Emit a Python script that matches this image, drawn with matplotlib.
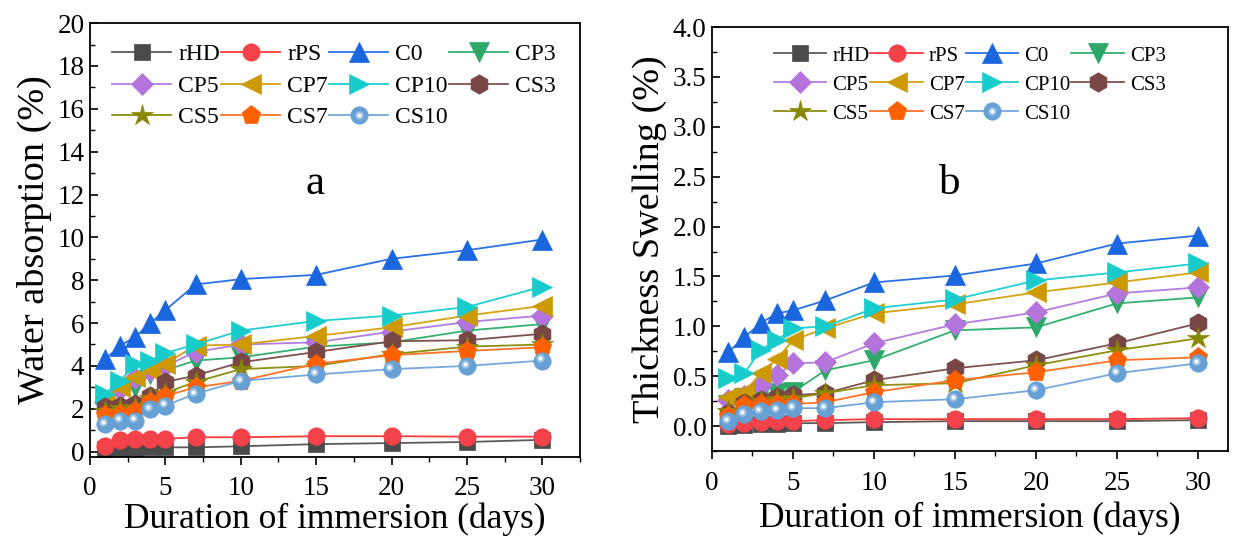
import matplotlib
matplotlib.use("Agg")
import matplotlib.pyplot as plt
from matplotlib.ticker import MultipleLocator, FormatStrFormatter
from matplotlib.transforms import offset_copy

plt.rcParams['font.family'] = ['Liberation Serif', 'DejaVu Serif']

days = [1, 2, 3, 4, 5, 7, 10, 15, 20, 25, 30]
series_names = ['rHD', 'rPS', 'C0', 'CP3', 'CP5', 'CP7', 'CP10',
                'CS3', 'CS5', 'CS7', 'CS10']

# Water absorption (%)
wa_rHD = [0.1, 0.15, 0.15, 0.2, 0.2, 0.2, 0.25, 0.35, 0.4, 0.45, 0.55]
wa_rPS = [0.25, 0.55, 0.6, 0.6, 0.6, 0.67, 0.67, 0.72, 0.72, 0.7, 0.7]
wa_C0 = [4.3, 4.95, 5.35, 6.0, 6.6, 7.8, 8.05, 8.25, 9.0, 9.4, 9.9]
wa_CP3 = [2.2, 2.85, 3.0, 3.6, 3.8, 4.25, 4.4, 4.9, 5.1, 5.65, 5.95]
wa_CP5 = [2.3, 2.9, 3.45, 3.8, 4.0, 4.65, 5.0, 5.1, 5.6, 6.05, 6.35]
wa_CP7 = [2.4, 3.0, 3.5, 3.8, 4.1, 4.95, 5.0, 5.4, 5.8, 6.35, 6.8]
wa_CP10 = [2.7, 3.3, 4.1, 4.25, 4.6, 5.0, 5.65, 6.1, 6.35, 6.75, 7.7]
wa_CS3 = [2.07, 2.15, 2.2, 2.6, 3.25, 3.55, 4.17, 4.65, 5.15, 5.2, 5.5]
wa_CS5 = [1.9, 2.05, 2.1, 2.5, 2.75, 3.25, 3.85, 4.0, 4.55, 4.9, 5.0]
wa_CS7 = [1.7, 1.75, 1.9, 2.3, 2.6, 3.0, 3.3, 4.1, 4.5, 4.7, 4.87]
wa_CS10 = [1.3, 1.45, 1.45, 2.0, 2.15, 2.7, 3.3, 3.6, 3.85, 4.0, 4.25]

# Thickness swelling (%)
ts_rHD = [0.0, 0.01, 0.02, 0.02, 0.03, 0.03, 0.04, 0.05, 0.05, 0.05, 0.06]
ts_rPS = [0.02, 0.03, 0.04, 0.05, 0.05, 0.06, 0.07, 0.07, 0.07, 0.07, 0.08]
ts_C0 = [0.74, 0.89, 1.03, 1.13, 1.16, 1.26, 1.44, 1.51, 1.63, 1.83, 1.91]
ts_CP3 = [0.21, 0.28, 0.32, 0.33, 0.34, 0.56, 0.66, 0.96, 0.99, 1.23, 1.29]
ts_CP5 = [0.26, 0.3, 0.41, 0.51, 0.63, 0.64, 0.83, 1.02, 1.14, 1.33, 1.39]
ts_CP7 = [0.29, 0.34, 0.53, 0.67, 0.86, 0.98, 1.13, 1.22, 1.34, 1.44, 1.54]
ts_CP10 = [0.48, 0.53, 0.76, 0.86, 0.98, 1.0, 1.18, 1.27, 1.46, 1.54, 1.63]
ts_CS3 = [0.13, 0.23, 0.26, 0.29, 0.31, 0.33, 0.46, 0.58, 0.66, 0.83, 1.03]
ts_CS5 = [0.15, 0.22, 0.25, 0.27, 0.28, 0.33, 0.41, 0.43, 0.61, 0.76, 0.88]
ts_CS7 = [0.1, 0.21, 0.22, 0.22, 0.22, 0.24, 0.34, 0.46, 0.54, 0.66, 0.69]
ts_CS10 = [0.05, 0.12, 0.15, 0.16, 0.18, 0.18, 0.24, 0.27, 0.36, 0.53, 0.63]

water_absorption = [wa_rHD, wa_rPS, wa_C0, wa_CP3, wa_CP5, wa_CP7, wa_CP10,
                    wa_CS3, wa_CS5, wa_CS7, wa_CS10]
thickness_swelling = [ts_rHD, ts_rPS, ts_C0, ts_CP3, ts_CP5, ts_CP7, ts_CP10,
                      ts_CS3, ts_CS5, ts_CS7, ts_CS10]

# (marker, marker colour, line colour, marker size)
styles = [
    ('s', '#4a4a4a', '#5a5a5a', 11),
    ('o', '#f4424b', '#ff3b3b', 12.5),
    ('^', '#1a66de', '#2a72e6', 14),
    ('v', '#2da869', '#33b070', 14),
    ('D', '#b474dc', '#b47ee0', 11),
    ('<', '#cc9a00', '#d4a414', 14),
    ('>', '#19cccc', '#22cfcf', 14),
    ('h', '#784644', '#7e5250', 14),
    ('*', '#888800', '#8f8f10', 16),
    ('p', '#ff6000', '#ff7326', 14),
    ('o', '#66a0d4', '#74a8dc', 12.5),
]

# legend fills column by column; this order reads row by row in 4 columns
legend_order = [0, 4, 8, 1, 5, 9, 2, 6, 10, 3, 7]
ax_xmax = {'a': 32.5, 'b': 31.85}


def draw_panel(ax, values, ylim, ymajor, yminor, yfmt, ylabel, tag,
               legend_anchor, legend_size, legend_spacing, xlabelpad):
    fig = ax.figure
    highlight = offset_copy(ax.transData, fig=fig, x=-1.6, y=1.6, units='points')
    handles = []
    for name, vals, (mk, mc, lc, ms) in zip(series_names, values, styles):
        line, = ax.plot(days, vals, color=lc, lw=1.3, marker=mk, ms=ms,
                        markerfacecolor=mc, markeredgecolor=mc,
                        markeredgewidth=0.5, label=name, clip_on=False)
        if name == 'CS10':
            # glossy sphere look: a soft light spot on each ball
            ax.plot(days, vals, ls='none', marker='o', ms=6,
                    markerfacecolor='#a9c9e8', markeredgewidth=0, alpha=0.8,
                    transform=highlight, clip_on=False)
            ax.plot(days, vals, ls='none', marker='o', ms=3,
                    markerfacecolor='white', markeredgewidth=0, alpha=0.95,
                    transform=highlight, clip_on=False)
            glow, = ax.plot([], [], ls='none', marker='o', ms=6,
                            markerfacecolor='#a9c9e8', markeredgewidth=0,
                            alpha=0.8)
            spot, = ax.plot([], [], ls='none', marker='o', ms=3,
                            markerfacecolor='white', markeredgewidth=0,
                            alpha=0.95)
            handles.append((line, glow, spot))
        else:
            handles.append(line)

    ax.set_xlim(0, ax_xmax[tag])
    ax.set_ylim(*ylim)
    ax.xaxis.set_major_locator(MultipleLocator(5))
    ax.xaxis.set_minor_locator(MultipleLocator(2.5))
    ax.yaxis.set_major_locator(MultipleLocator(ymajor))
    ax.yaxis.set_minor_locator(MultipleLocator(yminor))
    ax.yaxis.set_major_formatter(FormatStrFormatter(yfmt))
    ax.tick_params(axis='x', which='major', direction='out', length=6,
                   width=1.2, labelsize=19.5, pad=8)
    ax.tick_params(axis='x', which='minor', direction='out', length=3.5,
                   width=1.0)
    ax.tick_params(axis='y', which='major', direction='in', length=6,
                   width=1.2, labelsize=19.5, pad=4)
    ax.tick_params(axis='y', which='minor', direction='in', length=3.5,
                   width=1.0)
    for sp in ax.spines.values():
        sp.set_linewidth(1.3)

    ax.set_xlabel('Duration of immersion (days)', fontsize=25.5,
                  labelpad=xlabelpad)
    ax.set_ylabel(ylabel, fontsize=27.5, labelpad=4)
    ax.text(0.46, 0.63, tag, transform=ax.transAxes, fontsize=31,
            ha='center', va='center')

    ax.legend([handles[i] for i in legend_order],
              [series_names[i] for i in legend_order],
              ncol=4, loc='upper left',
              bbox_to_anchor=legend_anchor, frameon=False,
              fontsize=legend_size, handlelength=2.5, handletextpad=0.3,
              columnspacing=0.05, labelspacing=legend_spacing, borderpad=0,
              borderaxespad=0, numpoints=1)


fig = plt.figure(figsize=(12.36, 5.37), dpi=100)
ax_a = fig.add_axes([0.0728, 0.149, 0.3965, 0.808])
ax_b = fig.add_axes([0.576, 0.160, 0.4175, 0.7897])

draw_panel(ax_a, water_absorption, (-0.25, 20), 2, 1, '%d',
           'Water absorption (%)', 'a', (0.045, 0.952), 17, 0.42, 1)
draw_panel(ax_b, thickness_swelling, (-0.25, 4.0), 0.5, 0.25, '%.1f',
           'Thickness Swelling (%)', 'b', (0.12, 0.955), 15, 0.45, 4)

fig.savefig('out.png', dpi=100)
